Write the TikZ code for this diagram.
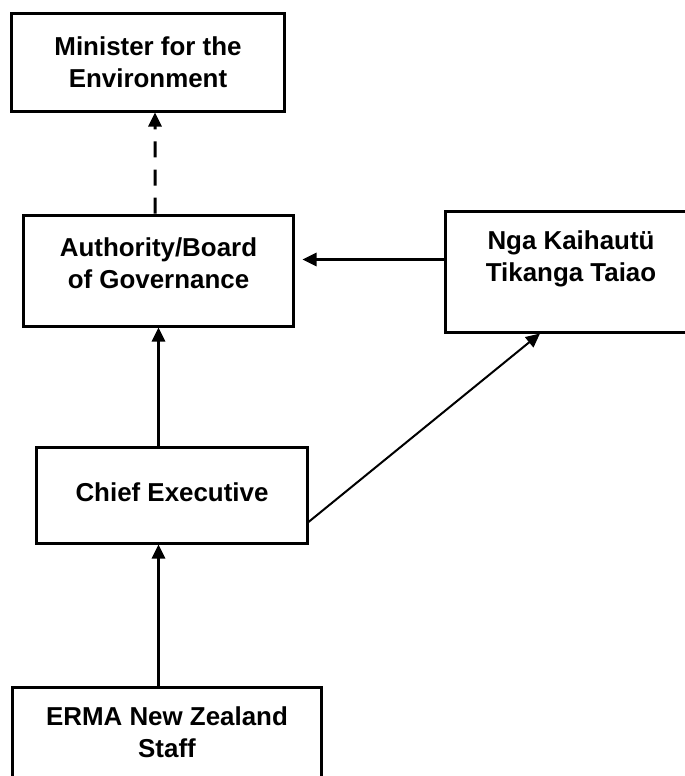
\documentclass[tikz,border=0pt]{standalone}
\usepackage{fontspec}
\setmainfont{Liberation Sans}
\usetikzlibrary{arrows.meta,positioning}

\begin{document}
\begin{tikzpicture}[x=1bp,y=-1bp,->,>={Triangle[length=14bp,width=13bp]},line width=3bp,
                    orgbox/.style={rectangle, draw=black, line width=3bp, align=center,
                                   font=\bfseries\fontsize{26}{32}\selectfont}]
    \useasboundingbox (0,0) rectangle (685,776);
    \clip (0,0) rectangle (685,776);

    \node[orgbox, minimum width=272bp, minimum height=97bp]                  (minister)  at (148,62.5)  {Minister for the\\Environment};
    \node[orgbox, minimum width=269bp, minimum height=111bp, text depth=14bp] (authority) at (158.5,270.5) {Authority/Board\\of Governance};
    \node[orgbox, minimum width=252bp, minimum height=121bp, text depth=30bp] (nga)       at (571,271.5) {Nga Kaihautü\\Tikanga Taiao};
    \node[orgbox, minimum width=270bp, minimum height=96bp, text depth=6bp]  (chief)     at (172,495)   {Chief Executive};
    \node[orgbox, minimum width=308bp, minimum height=90bp]                  (erma)      at (167,732)   {ERMA New Zealand\\Staff};

    \draw[dash pattern=on 16bp off 12bp] ([xshift=-3.5bp]authority.north) -- ([xshift=7bp]minister.south);
    \draw (chief.north -| authority.south) -- (authority.south);
    \draw (erma.north -| authority.south) -- (chief.south -| authority.south);
    \draw[shorten >=8bp] ([yshift=12bp]nga.west) -- ([yshift=12bp]nga.west -| authority.east);
    \draw[line width=2bp] ([yshift=-27bp]chief.east) -- ([xshift=-31bp]nga.south);
\end{tikzpicture}
\end{document}
